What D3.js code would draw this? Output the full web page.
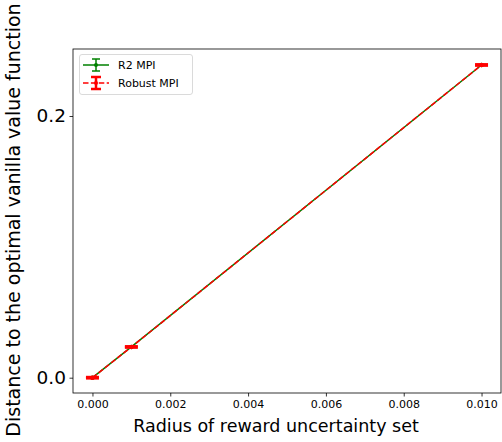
<!DOCTYPE html>
<html><head><meta charset="utf-8">
<script src="https://cdn.jsdelivr.net/npm/d3@7"></script>
<style>body{margin:0;background:#fff}svg{display:block}text{font-family:"DejaVu Sans",sans-serif}</style>
</head><body><svg id="c" width="502" height="442"></svg>
<script>
const radii = [0.000, 0.001, 0.010];
const r2Values = [0.000, 0.0235, 0.2390];
const r2Err = [0.0003, 0.0003, 0.0003];
const robustValues = [0.000, 0.0235, 0.2390];
const robustErr = [0.0005, 0.0005, 0.0005];
const xTicks = [0.000, 0.002, 0.004, 0.006, 0.008, 0.010];
const yTicks = [0.0, 0.2];
const seriesNames = ["R2 MPI", "Robust MPI"];

const svg = d3.select("#c");
const L = 73, R = 501, T = 49, B = 393;
const x = d3.scaleLinear().domain([-0.0005, 0.0105]).range([L, R]);
const y = d3.scaleLinear().domain([0, 0.2]).range([377.7, 116]);

// axes
const xa = svg.append("g").attr("transform", `translate(0,${B})`)
  .call(d3.axisBottom(x).tickValues(xTicks).tickFormat(d3.format(".3f")).tickSize(3.5).tickPadding(3.5));
xa.selectAll("text").attr("font-size", 11).attr("fill", "#000");
const ya = svg.append("g").attr("transform", `translate(${L},0)`)
  .call(d3.axisLeft(y).tickValues(yTicks).tickFormat(d3.format(".1f")).tickSize(3.5).tickPadding(3.5));
ya.selectAll("text").attr("font-size", 18.5).attr("fill", "#000");
svg.selectAll(".domain").remove();
svg.selectAll(".tick line").attr("stroke", "#000").attr("stroke-width", 0.8);

svg.append("rect").attr("x", L).attr("y", T).attr("width", R - L).attr("height", B - T)
  .attr("fill", "none").attr("stroke", "#000").attr("stroke-width", 0.8);

// labels
svg.append("text").attr("x", 276).attr("y", 432).attr("text-anchor", "middle")
  .attr("font-size", 17.5).text("Radius of reward uncertainty set");
svg.append("text").attr("transform", `translate(20,${220}) rotate(-90)`)
  .attr("text-anchor", "middle").attr("font-size", 19).text("Distance to the optimal vanilla value function");

function drawSeries(vals, errs, color, dash, lw, capHalf, capW) {
  const g = svg.append("g");
  const line = d3.line().x((d, i) => x(radii[i])).y(d => y(d));
  g.append("path").datum(vals).attr("d", line).attr("fill", "none")
    .attr("stroke", color).attr("stroke-width", lw).attr("stroke-dasharray", dash);
  vals.forEach((v, i) => {
    const cx = x(radii[i]);
    g.append("line").attr("x1", cx).attr("x2", cx).attr("y1", y(v - errs[i])).attr("y2", y(v + errs[i]))
      .attr("stroke", color).attr("stroke-width", capW);
    [v - errs[i], v + errs[i]].forEach(e => {
      g.append("line").attr("x1", cx - capHalf).attr("x2", cx + capHalf).attr("y1", y(e)).attr("y2", y(e))
        .attr("stroke", color).attr("stroke-width", capW);
    });
    g.append("circle").attr("cx", cx).attr("cy", y(v)).attr("r", 2.2).attr("fill", color);
  });
}
drawSeries(r2Values, r2Err, "#008000", null, 1.5, 5, 1.5);
drawSeries(robustValues, robustErr, "#ff0000", "5.5,2.4", 1.5, 6.5, 2.5);

// legend
const lg = svg.append("g");
lg.append("rect").attr("x", 79.5).attr("y", 54.5).attr("width", 113).attr("height", 40).attr("rx", 2.5)
  .attr("fill", "#fff").attr("fill-opacity", 0.8).attr("stroke", "#d0d0d0").attr("stroke-width", 0.8);
const items = [
  {name: seriesNames[0], color: "#008000", dash: null, capHalf: 5, capW: 1.5},
  {name: seriesNames[1], color: "#ff0000", dash: "5.5,2.4", capHalf: 6, capW: 2.5}
];
items.forEach((it, i) => {
  const cy = 65 + i * 18, cx = 96;
  lg.append("line").attr("x1", 83).attr("x2", 109).attr("y1", cy).attr("y2", cy)
    .attr("stroke", it.color).attr("stroke-width", 1.5).attr("stroke-dasharray", it.dash);
  lg.append("line").attr("x1", cx).attr("x2", cx).attr("y1", cy - 6).attr("y2", cy + 6)
    .attr("stroke", it.color).attr("stroke-width", it.capW);
  [cy - 6, cy + 6].forEach(yy => lg.append("line").attr("x1", cx - it.capHalf + 1).attr("x2", cx + it.capHalf - 1)
    .attr("y1", yy).attr("y2", yy).attr("stroke", it.color).attr("stroke-width", it.capW));
  lg.append("circle").attr("cx", cx).attr("cy", cy).attr("r", 2).attr("fill", it.color);
  lg.append("text").attr("x", 118).attr("y", cy + 4).attr("font-size", 11).text(it.name);
});
</script></body></html>
